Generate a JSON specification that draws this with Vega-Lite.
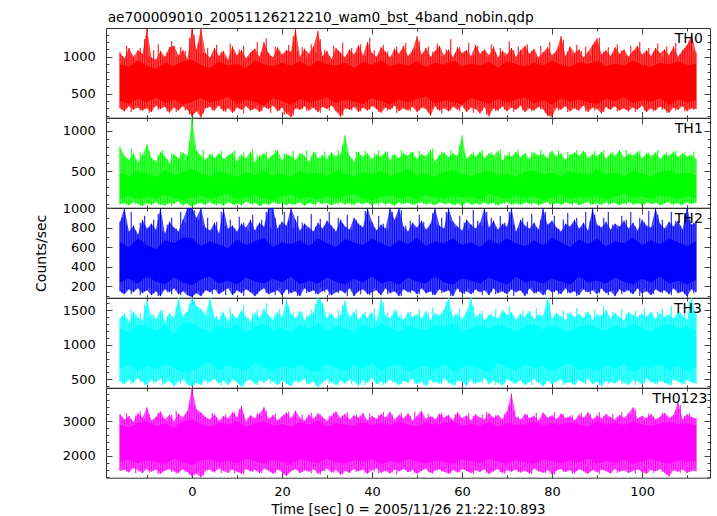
{
"$schema":"https://vega.github.io/schema/vega-lite/v6.json",
"padding":{"left":33,"top":11,"right":0,"bottom":0},
"title":{"text":"ae700009010_20051126212210_wam0_bst_4band_nobin.qdp","anchor":"start","font":"DejaVu Sans","fontSize":13.7,"fontWeight":"normal","color":"#000","offset":2,"dx":74},
"spacing":0,
"bounds":"flush",
"datasets":{
"labs":[{"p":"TH0","t":113.5,"v":1391},{"p":"TH1","t":113.5,"v":1155},{"p":"TH2","t":113.5,"v":1000},{"p":"TH3","t":113.3,"v":1677},{"p":"TH0123","t":114.5,"v":3960}],
"env":[
{"t":-16,"l0":300,"h0":1060,"l1":90,"h1":800,"l2":150,"h2":860,"l3":470,"h3":1380,"l4":1560,"h4":3200},
{"t":-15,"l0":260,"h0":980,"l1":110,"h1":690,"l2":120,"h2":1000,"l3":430,"h3":1450,"l4":1600,"h4":3050},
{"t":-14,"l0":330,"h0":1120,"l1":80,"h1":640,"l2":170,"h2":760,"l3":500,"h3":1330,"l4":1520,"h4":3150},
{"t":-13,"l0":280,"h0":1000,"l1":120,"h1":720,"l2":140,"h2":820,"l3":450,"h3":1480,"l4":1650,"h4":2980},
{"t":-12,"l0":310,"h0":1090,"l1":95,"h1":610,"l2":180,"h2":730,"l3":520,"h3":1400,"l4":1580,"h4":3230},
{"t":-11,"l0":270,"h0":1040,"l1":70,"h1":700,"l2":130,"h2":880,"l3":470,"h3":1350,"l4":1500,"h4":3100},
{"t":-10,"l0":300,"h0":1390,"l1":105,"h1":830,"l2":160,"h2":790,"l3":420,"h3":1640,"l4":1620,"h4":3400},
{"t":-9,"l0":250,"h0":990,"l1":85,"h1":660,"l2":110,"h2":840,"l3":490,"h3":1420,"l4":1540,"h4":3020},
{"t":-8,"l0":340,"h0":960,"l1":120,"h1":620,"l2":150,"h2":780,"l3":460,"h3":1370,"l4":1600,"h4":3120},
{"t":-7,"l0":290,"h0":1080,"l1":90,"h1":740,"l2":100,"h2":1000,"l3":510,"h3":1500,"l4":1480,"h4":3280},
{"t":-6,"l0":320,"h0":1000,"l1":75,"h1":680,"l2":170,"h2":740,"l3":440,"h3":1330,"l4":1570,"h4":3060},
{"t":-5,"l0":240,"h0":1130,"l1":110,"h1":600,"l2":140,"h2":860,"l3":480,"h3":1460,"l4":1620,"h4":3180},
{"t":-4,"l0":310,"h0":1150,"l1":95,"h1":710,"l2":180,"h2":800,"l3":400,"h3":1390,"l4":1550,"h4":3000},
{"t":-3,"l0":270,"h0":1020,"l1":130,"h1":650,"l2":120,"h2":760,"l3":470,"h3":1677,"l4":1500,"h4":3220},
{"t":-2,"l0":330,"h0":1090,"l1":80,"h1":730,"l2":150,"h2":880,"l3":500,"h3":1410,"l4":1610,"h4":3100},
{"t":-1,"l0":280,"h0":970,"l1":100,"h1":690,"l2":110,"h2":1000,"l3":430,"h3":1480,"l4":1530,"h4":3300},
{"t":0,"l0":190,"h0":1390,"l1":60,"h1":1155,"l2":90,"h2":1000,"l3":400,"h3":1677,"l4":1400,"h4":3960},
{"t":1,"l0":260,"h0":1100,"l1":95,"h1":760,"l2":130,"h2":900,"l3":450,"h3":1560,"l4":1480,"h4":3350},
{"t":2,"l0":175,"h0":1390,"l1":110,"h1":690,"l2":100,"h2":1000,"l3":420,"h3":1520,"l4":1380,"h4":3250},
{"t":3,"l0":300,"h0":1050,"l1":85,"h1":640,"l2":160,"h2":800,"l3":490,"h3":1430,"l4":1570,"h4":3120},
{"t":4,"l0":320,"h0":990,"l1":120,"h1":710,"l2":140,"h2":770,"l3":460,"h3":1677,"l4":1600,"h4":3050},
{"t":5,"l0":270,"h0":1120,"l1":90,"h1":660,"l2":170,"h2":850,"l3":510,"h3":1400,"l4":1520,"h4":3200},
{"t":6,"l0":340,"h0":1010,"l1":105,"h1":720,"l2":120,"h2":740,"l3":440,"h3":1360,"l4":1640,"h4":3010},
{"t":7,"l0":260,"h0":1080,"l1":75,"h1":650,"l2":150,"h2":1000,"l3":480,"h3":1470,"l4":1560,"h4":3150},
{"t":8,"l0":300,"h0":960,"l1":115,"h1":690,"l2":180,"h2":790,"l3":420,"h3":1340,"l4":1500,"h4":3080},
{"t":9,"l0":240,"h0":1140,"l1":90,"h1":730,"l2":110,"h2":820,"l3":500,"h3":1450,"l4":1610,"h4":3260},
{"t":10,"l0":310,"h0":1020,"l1":100,"h1":620,"l2":160,"h2":760,"l3":460,"h3":1380,"l4":1540,"h4":3110},
{"t":11,"l0":280,"h0":1090,"l1":80,"h1":700,"l2":130,"h2":840,"l3":390,"h3":1500,"l4":1480,"h4":3450},
{"t":12,"l0":330,"h0":980,"l1":125,"h1":660,"l2":170,"h2":800,"l3":470,"h3":1410,"l4":1620,"h4":3000},
{"t":13,"l0":270,"h0":1060,"l1":95,"h1":740,"l2":140,"h2":880,"l3":500,"h3":1330,"l4":1550,"h4":3170},
{"t":14,"l0":300,"h0":1110,"l1":110,"h1":610,"l2":100,"h2":770,"l3":430,"h3":1460,"l4":1590,"h4":3090},
{"t":15,"l0":250,"h0":1000,"l1":70,"h1":690,"l2":150,"h2":850,"l3":480,"h3":1390,"l4":1500,"h4":3220},
{"t":16,"l0":320,"h0":1200,"l1":100,"h1":720,"l2":180,"h2":810,"l3":450,"h3":1520,"l4":1630,"h4":3400},
{"t":17,"l0":290,"h0":1050,"l1":85,"h1":650,"l2":120,"h2":1000,"l3":510,"h3":1430,"l4":1570,"h4":3060},
{"t":18,"l0":340,"h0":990,"l1":120,"h1":700,"l2":140,"h2":1000,"l3":470,"h3":1360,"l4":1480,"h4":3180},
{"t":19,"l0":260,"h0":1130,"l1":95,"h1":760,"l2":160,"h2":790,"l3":420,"h3":1470,"l4":1600,"h4":3020},
{"t":20,"l0":310,"h0":1030,"l1":110,"h1":630,"l2":110,"h2":860,"l3":490,"h3":1400,"l4":1530,"h4":3140},
{"t":21,"l0":230,"h0":1090,"l1":80,"h1":710,"l2":170,"h2":820,"l3":440,"h3":1650,"l4":1410,"h4":3250},
{"t":22,"l0":180,"h0":1070,"l1":100,"h1":680,"l2":130,"h2":1000,"l3":400,"h3":1440,"l4":1550,"h4":3080},
{"t":23,"l0":300,"h0":1390,"l1":90,"h1":640,"l2":150,"h2":880,"l3":480,"h3":1380,"l4":1620,"h4":3300},
{"t":24,"l0":280,"h0":1000,"l1":115,"h1":720,"l2":100,"h2":770,"l3":460,"h3":1490,"l4":1500,"h4":3100},
{"t":25,"l0":330,"h0":1110,"l1":75,"h1":690,"l2":180,"h2":840,"l3":510,"h3":1350,"l4":1580,"h4":3010},
{"t":26,"l0":270,"h0":1040,"l1":105,"h1":610,"l2":140,"h2":800,"l3":430,"h3":1420,"l4":1540,"h4":3190},
{"t":27,"l0":310,"h0":1140,"l1":90,"h1":740,"l2":160,"h2":760,"l3":470,"h3":1460,"l4":1610,"h4":3070},
{"t":28,"l0":250,"h0":1350,"l1":125,"h1":660,"l2":120,"h2":850,"l3":390,"h3":1677,"l4":1480,"h4":3230},
{"t":29,"l0":320,"h0":1010,"l1":95,"h1":700,"l2":150,"h2":790,"l3":450,"h3":1600,"l4":1560,"h4":3120},
{"t":30,"l0":290,"h0":1080,"l1":110,"h1":650,"l2":170,"h2":870,"l3":500,"h3":1390,"l4":1630,"h4":3000},
{"t":31,"l0":340,"h0":970,"l1":80,"h1":730,"l2":110,"h2":820,"l3":460,"h3":1450,"l4":1520,"h4":3160},
{"t":32,"l0":260,"h0":1120,"l1":100,"h1":680,"l2":140,"h2":760,"l3":420,"h3":1370,"l4":1590,"h4":3280},
{"t":33,"l0":185,"h0":1060,"l1":120,"h1":710,"l2":160,"h2":880,"l3":480,"h3":1430,"l4":1450,"h4":3090},
{"t":34,"l0":300,"h0":990,"l1":90,"h1":940,"l2":130,"h2":810,"l3":440,"h3":1640,"l4":1570,"h4":3210},
{"t":35,"l0":280,"h0":1100,"l1":105,"h1":690,"l2":180,"h2":780,"l3":500,"h3":1400,"l4":1500,"h4":3050},
{"t":36,"l0":320,"h0":1030,"l1":85,"h1":620,"l2":100,"h2":900,"l3":470,"h3":1480,"l4":1620,"h4":3170},
{"t":37,"l0":250,"h0":1160,"l1":115,"h1":740,"l2":150,"h2":840,"l3":410,"h3":1360,"l4":1550,"h4":3100},
{"t":38,"l0":310,"h0":1020,"l1":95,"h1":670,"l2":170,"h2":800,"l3":490,"h3":1450,"l4":1600,"h4":3240},
{"t":39,"l0":270,"h0":1200,"l1":110,"h1":720,"l2":120,"h2":1000,"l3":450,"h3":1390,"l4":1480,"h4":3020},
{"t":40,"l0":330,"h0":1050,"l1":80,"h1":650,"l2":140,"h2":860,"l3":520,"h3":1470,"l4":1580,"h4":3150},
{"t":41,"l0":290,"h0":1000,"l1":100,"h1":700,"l2":160,"h2":770,"l3":430,"h3":1340,"l4":1640,"h4":3060},
{"t":42,"l0":240,"h0":1130,"l1":120,"h1":680,"l2":110,"h2":830,"l3":470,"h3":1660,"l4":1510,"h4":3200},
{"t":43,"l0":310,"h0":1070,"l1":90,"h1":740,"l2":180,"h2":790,"l3":440,"h3":1420,"l4":1570,"h4":3110},
{"t":44,"l0":280,"h0":990,"l1":105,"h1":630,"l2":130,"h2":1000,"l3":500,"h3":1380,"l4":1490,"h4":3270},
{"t":45,"l0":340,"h0":1110,"l1":75,"h1":710,"l2":150,"h2":880,"l3":460,"h3":1500,"l4":1600,"h4":3040},
{"t":46,"l0":260,"h0":1040,"l1":115,"h1":660,"l2":100,"h2":1000,"l3":420,"h3":1410,"l4":1550,"h4":3180},
{"t":47,"l0":300,"h0":1150,"l1":95,"h1":720,"l2":170,"h2":810,"l3":480,"h3":1360,"l4":1620,"h4":3090},
{"t":48,"l0":270,"h0":1010,"l1":110,"h1":690,"l2":140,"h2":760,"l3":450,"h3":1470,"l4":1530,"h4":3230},
{"t":49,"l0":320,"h0":1090,"l1":85,"h1":740,"l2":160,"h2":850,"l3":510,"h3":1400,"l4":1590,"h4":3010},
{"t":50,"l0":250,"h0":1280,"l1":100,"h1":650,"l2":120,"h2":800,"l3":430,"h3":1440,"l4":1480,"h4":3160},
{"t":51,"l0":310,"h0":1030,"l1":120,"h1":710,"l2":180,"h2":870,"l3":470,"h3":1380,"l4":1560,"h4":3300},
{"t":52,"l0":290,"h0":1120,"l1":90,"h1":680,"l2":130,"h2":780,"l3":400,"h3":1490,"l4":1630,"h4":3070},
{"t":53,"l0":200,"h0":1000,"l1":105,"h1":760,"l2":150,"h2":840,"l3":490,"h3":1350,"l4":1500,"h4":3140},
{"t":54,"l0":330,"h0":1080,"l1":80,"h1":620,"l2":110,"h2":1000,"l3":460,"h3":1460,"l4":1570,"h4":3050},
{"t":55,"l0":270,"h0":1150,"l1":115,"h1":700,"l2":170,"h2":820,"l3":440,"h3":1420,"l4":1610,"h4":3220},
{"t":56,"l0":300,"h0":1020,"l1":95,"h1":730,"l2":140,"h2":790,"l3":510,"h3":1510,"l4":1540,"h4":3100},
{"t":57,"l0":260,"h0":1100,"l1":110,"h1":670,"l2":160,"h2":1000,"l3":450,"h3":1677,"l4":1480,"h4":3180},
{"t":58,"l0":320,"h0":990,"l1":85,"h1":720,"l2":100,"h2":860,"l3":420,"h3":1400,"l4":1590,"h4":3030},
{"t":59,"l0":280,"h0":1130,"l1":100,"h1":690,"l2":180,"h2":810,"l3":480,"h3":1450,"l4":1520,"h4":3260},
{"t":60,"l0":340,"h0":1050,"l1":70,"h1":940,"l2":130,"h2":770,"l3":470,"h3":1370,"l4":1620,"h4":3090},
{"t":61,"l0":250,"h0":1090,"l1":120,"h1":650,"l2":150,"h2":880,"l3":400,"h3":1480,"l4":1560,"h4":3170},
{"t":62,"l0":310,"h0":1010,"l1":90,"h1":710,"l2":120,"h2":830,"l3":500,"h3":1677,"l4":1500,"h4":3020},
{"t":63,"l0":290,"h0":1160,"l1":105,"h1":680,"l2":170,"h2":790,"l3":440,"h3":1390,"l4":1580,"h4":3200},
{"t":64,"l0":230,"h0":1040,"l1":85,"h1":740,"l2":140,"h2":850,"l3":460,"h3":1460,"l4":1530,"h4":3110},
{"t":65,"l0":320,"h0":1100,"l1":115,"h1":660,"l2":160,"h2":1000,"l3":520,"h3":1350,"l4":1610,"h4":3050},
{"t":66,"l0":190,"h0":1020,"l1":95,"h1":720,"l2":110,"h2":800,"l3":430,"h3":1440,"l4":1470,"h4":3230},
{"t":67,"l0":300,"h0":1140,"l1":110,"h1":690,"l2":180,"h2":870,"l3":480,"h3":1410,"l4":1550,"h4":3100},
{"t":68,"l0":270,"h0":990,"l1":80,"h1":750,"l2":130,"h2":780,"l3":450,"h3":1380,"l4":1620,"h4":3180},
{"t":69,"l0":330,"h0":1080,"l1":100,"h1":630,"l2":150,"h2":840,"l3":410,"h3":1500,"l4":1500,"h4":3060},
{"t":70,"l0":260,"h0":1030,"l1":120,"h1":700,"l2":120,"h2":810,"l3":500,"h3":1430,"l4":1580,"h4":3290},
{"t":71,"l0":310,"h0":1120,"l1":90,"h1":680,"l2":170,"h2":1000,"l3":470,"h3":1470,"l4":1540,"h4":3800},
{"t":72,"l0":280,"h0":1000,"l1":105,"h1":740,"l2":140,"h2":760,"l3":440,"h3":1360,"l4":1600,"h4":3120},
{"t":73,"l0":340,"h0":1090,"l1":85,"h1":670,"l2":160,"h2":880,"l3":490,"h3":1450,"l4":1520,"h4":3040},
{"t":74,"l0":250,"h0":1150,"l1":115,"h1":720,"l2":100,"h2":820,"l3":420,"h3":1400,"l4":1570,"h4":3210},
{"t":75,"l0":300,"h0":1040,"l1":95,"h1":650,"l2":180,"h2":790,"l3":460,"h3":1490,"l4":1490,"h4":3090},
{"t":76,"l0":270,"h0":1110,"l1":110,"h1":730,"l2":130,"h2":850,"l3":510,"h3":1370,"l4":1630,"h4":3160},
{"t":77,"l0":320,"h0":990,"l1":80,"h1":690,"l2":150,"h2":780,"l3":450,"h3":1440,"l4":1550,"h4":3020},
{"t":78,"l0":290,"h0":1060,"l1":100,"h1":710,"l2":110,"h2":1000,"l3":400,"h3":1420,"l4":1510,"h4":3250},
{"t":79,"l0":200,"h0":1130,"l1":120,"h1":660,"l2":170,"h2":830,"l3":480,"h3":1677,"l4":1590,"h4":3100},
{"t":80,"l0":185,"h0":1020,"l1":90,"h1":750,"l2":140,"h2":870,"l3":430,"h3":1380,"l4":1460,"h4":3170},
{"t":81,"l0":310,"h0":1090,"l1":105,"h1":680,"l2":160,"h2":800,"l3":470,"h3":1460,"l4":1570,"h4":3060},
{"t":82,"l0":280,"h0":1280,"l1":85,"h1":720,"l2":120,"h2":760,"l3":500,"h3":1410,"l4":1620,"h4":3220},
{"t":83,"l0":330,"h0":1010,"l1":115,"h1":640,"l2":180,"h2":840,"l3":440,"h3":1350,"l4":1530,"h4":3090},
{"t":84,"l0":260,"h0":1140,"l1":95,"h1":700,"l2":130,"h2":810,"l3":460,"h3":1470,"l4":1580,"h4":3140},
{"t":85,"l0":300,"h0":1050,"l1":110,"h1":730,"l2":150,"h2":880,"l3":420,"h3":1400,"l4":1500,"h4":3030},
{"t":86,"l0":270,"h0":1100,"l1":80,"h1":690,"l2":110,"h2":790,"l3":490,"h3":1450,"l4":1610,"h4":3190},
{"t":87,"l0":340,"h0":990,"l1":100,"h1":750,"l2":170,"h2":850,"l3":450,"h3":1390,"l4":1550,"h4":3100},
{"t":88,"l0":250,"h0":1070,"l1":120,"h1":660,"l2":140,"h2":770,"l3":510,"h3":1480,"l4":1480,"h4":3260},
{"t":89,"l0":310,"h0":1160,"l1":90,"h1":710,"l2":160,"h2":1000,"l3":430,"h3":1360,"l4":1590,"h4":3050},
{"t":90,"l0":290,"h0":1250,"l1":105,"h1":680,"l2":120,"h2":830,"l3":470,"h3":1440,"l4":1520,"h4":3170},
{"t":91,"l0":230,"h0":1030,"l1":85,"h1":740,"l2":180,"h2":800,"l3":400,"h3":1420,"l4":1600,"h4":3080},
{"t":92,"l0":320,"h0":1090,"l1":115,"h1":650,"l2":130,"h2":860,"l3":480,"h3":1500,"l4":1560,"h4":3210},
{"t":93,"l0":280,"h0":1010,"l1":95,"h1":720,"l2":150,"h2":780,"l3":460,"h3":1380,"l4":1490,"h4":3120},
{"t":94,"l0":330,"h0":1130,"l1":110,"h1":690,"l2":100,"h2":840,"l3":440,"h3":1460,"l4":1620,"h4":3040},
{"t":95,"l0":270,"h0":1040,"l1":80,"h1":760,"l2":170,"h2":810,"l3":500,"h3":1400,"l4":1540,"h4":3180},
{"t":96,"l0":300,"h0":1100,"l1":100,"h1":670,"l2":140,"h2":870,"l3":450,"h3":1350,"l4":1580,"h4":3100},
{"t":97,"l0":260,"h0":1000,"l1":120,"h1":710,"l2":160,"h2":790,"l3":420,"h3":1470,"l4":1500,"h4":3230},
{"t":98,"l0":310,"h0":1080,"l1":90,"h1":690,"l2":120,"h2":850,"l3":490,"h3":1430,"l4":1570,"h4":3400},
{"t":99,"l0":280,"h0":1150,"l1":105,"h1":740,"l2":180,"h2":770,"l3":470,"h3":1390,"l4":1610,"h4":3070},
{"t":100,"l0":340,"h0":1030,"l1":85,"h1":660,"l2":130,"h2":880,"l3":430,"h3":1450,"l4":1530,"h4":3160},
{"t":101,"l0":250,"h0":1090,"l1":115,"h1":720,"l2":150,"h2":820,"l3":510,"h3":1410,"l4":1480,"h4":3090},
{"t":102,"l0":300,"h0":1010,"l1":95,"h1":680,"l2":110,"h2":800,"l3":460,"h3":1480,"l4":1590,"h4":3200},
{"t":103,"l0":270,"h0":1120,"l1":110,"h1":730,"l2":170,"h2":1000,"l3":440,"h3":1370,"l4":1550,"h4":3050},
{"t":104,"l0":320,"h0":1050,"l1":80,"h1":650,"l2":140,"h2":840,"l3":480,"h3":1460,"l4":1620,"h4":3130},
{"t":105,"l0":290,"h0":1100,"l1":100,"h1":710,"l2":160,"h2":790,"l3":450,"h3":1400,"l4":1510,"h4":3240},
{"t":106,"l0":240,"h0":1020,"l1":120,"h1":690,"l2":120,"h2":860,"l3":420,"h3":1440,"l4":1400,"h4":3100},
{"t":107,"l0":310,"h0":1140,"l1":90,"h1":740,"l2":180,"h2":810,"l3":500,"h3":1380,"l4":1580,"h4":3180},
{"t":108,"l0":280,"h0":1000,"l1":105,"h1":670,"l2":130,"h2":870,"l3":470,"h3":1470,"l4":1540,"h4":3550},
{"t":109,"l0":330,"h0":1090,"l1":85,"h1":720,"l2":150,"h2":780,"l3":430,"h3":1420,"l4":1600,"h4":3060},
{"t":110,"l0":260,"h0":1160,"l1":115,"h1":680,"l2":100,"h2":1000,"l3":490,"h3":1360,"l4":1500,"h4":3200},
{"t":111,"l0":300,"h0":1300,"l1":95,"h1":700,"l2":170,"h2":830,"l3":460,"h3":1677,"l4":1570,"h4":3120},
{"t":112,"l0":290,"h0":1060,"l1":110,"h1":650,"l2":140,"h2":850,"l3":440,"h3":1450,"l4":1550,"h4":3080}
],
"env2":[
{"t":-15.5,"l0":280,"h0":1010,"l1":100,"h1":720,"l2":130,"h2":900,"l3":450,"h3":1420,"l4":1580,"h4":3120},
{"t":-14.5,"l0":310,"h0":1150,"l1":85,"h1":660,"l2":160,"h2":820,"l3":490,"h3":1390,"l4":1540,"h4":3220},
{"t":-13.5,"l0":250,"h0":1030,"l1":115,"h1":780,"l2":120,"h2":960,"l3":430,"h3":1510,"l4":1620,"h4":3060},
{"t":-12.5,"l0":330,"h0":960,"l1":95,"h1":640,"l2":170,"h2":770,"l3":510,"h3":1350,"l4":1500,"h4":3170},
{"t":-11.5,"l0":270,"h0":1120,"l1":75,"h1":730,"l2":110,"h2":850,"l3":460,"h3":1460,"l4":1570,"h4":3280},
{"t":-10.5,"l0":300,"h0":1240,"l1":120,"h1":690,"l2":150,"h2":920,"l3":420,"h3":1580,"l4":1640,"h4":3090},
{"t":-9.5,"l0":240,"h0":1010,"l1":90,"h1":750,"l2":180,"h2":800,"l3":500,"h3":1400,"l4":1510,"h4":3190},
{"t":-8.5,"l0":320,"h0":1090,"l1":105,"h1":620,"l2":130,"h2":880,"l3":440,"h3":1440,"l4":1590,"h4":3030},
{"t":-7.5,"l0":280,"h0":1170,"l1":80,"h1":700,"l2":100,"h2":940,"l3":480,"h3":1370,"l4":1470,"h4":3250},
{"t":-6.5,"l0":340,"h0":990,"l1":110,"h1":760,"l2":160,"h2":760,"l3":410,"h3":1500,"l4":1560,"h4":3110},
{"t":-5.5,"l0":260,"h0":1060,"l1":95,"h1":650,"l2":140,"h2":830,"l3":520,"h3":1420,"l4":1610,"h4":3000},
{"t":-4.5,"l0":300,"h0":1210,"l1":70,"h1":720,"l2":120,"h2":900,"l3":450,"h3":1360,"l4":1530,"h4":3180},
{"t":-3.5,"l0":250,"h0":1000,"l1":125,"h1":680,"l2":170,"h2":790,"l3":470,"h3":1550,"l4":1480,"h4":3290},
{"t":-2.5,"l0":310,"h0":1130,"l1":90,"h1":740,"l2":110,"h2":960,"l3":430,"h3":1430,"l4":1600,"h4":3060},
{"t":-1.5,"l0":270,"h0":1080,"l1":100,"h1":610,"l2":150,"h2":850,"l3":500,"h3":1470,"l4":1520,"h4":3200},
{"t":-0.5,"l0":220,"h0":1260,"l1":80,"h1":860,"l2":100,"h2":1000,"l3":410,"h3":1600,"l4":1450,"h4":3500},
{"t":0.5,"l0":240,"h0":1300,"l1":90,"h1":820,"l2":120,"h2":980,"l3":430,"h3":1640,"l4":1500,"h4":3450},
{"t":1.5,"l0":280,"h0":1190,"l1":110,"h1":700,"l2":150,"h2":880,"l3":460,"h3":1490,"l4":1560,"h4":3230},
{"t":2.5,"l0":230,"h0":1050,"l1":85,"h1":760,"l2":130,"h2":820,"l3":490,"h3":1450,"l4":1420,"h4":3150},
{"t":3.5,"l0":310,"h0":1120,"l1":120,"h1":650,"l2":160,"h2":900,"l3":440,"h3":1380,"l4":1590,"h4":3070},
{"t":4.5,"l0":270,"h0":1010,"l1":95,"h1":720,"l2":120,"h2":780,"l3":510,"h3":1520,"l4":1540,"h4":3240},
{"t":5.5,"l0":330,"h0":1160,"l1":75,"h1":690,"l2":170,"h2":860,"l3":470,"h3":1420,"l4":1620,"h4":3120},
{"t":6.5,"l0":290,"h0":1070,"l1":110,"h1":750,"l2":140,"h2":960,"l3":420,"h3":1470,"l4":1500,"h4":3030},
{"t":7.5,"l0":250,"h0":990,"l1":90,"h1":640,"l2":110,"h2":820,"l3":500,"h3":1400,"l4":1570,"h4":3190},
{"t":8.5,"l0":320,"h0":1180,"l1":120,"h1":710,"l2":180,"h2":880,"l3":450,"h3":1530,"l4":1610,"h4":3080},
{"t":9.5,"l0":260,"h0":1040,"l1":80,"h1":760,"l2":130,"h2":790,"l3":480,"h3":1360,"l4":1480,"h4":3260},
{"t":10.5,"l0":300,"h0":1100,"l1":105,"h1":690,"l2":150,"h2":910,"l3":430,"h3":1440,"l4":1550,"h4":3350},
{"t":11.5,"l0":230,"h0":1150,"l1":95,"h1":730,"l2":100,"h2":850,"l3":400,"h3":1580,"l4":1460,"h4":3200},
{"t":12.5,"l0":310,"h0":1000,"l1":115,"h1":650,"l2":160,"h2":770,"l3":490,"h3":1390,"l4":1600,"h4":3100},
{"t":13.5,"l0":280,"h0":1090,"l1":85,"h1":770,"l2":140,"h2":930,"l3":460,"h3":1460,"l4":1530,"h4":3050},
{"t":14.5,"l0":330,"h0":1200,"l1":100,"h1":700,"l2":120,"h2":820,"l3":420,"h3":1510,"l4":1580,"h4":3230},
{"t":15.5,"l0":260,"h0":1060,"l1":75,"h1":640,"l2":170,"h2":880,"l3":510,"h3":1420,"l4":1500,"h4":3150},
{"t":16.5,"l0":300,"h0":1250,"l1":110,"h1":740,"l2":130,"h2":960,"l3":470,"h3":1600,"l4":1620,"h4":3300},
{"t":17.5,"l0":240,"h0":1010,"l1":90,"h1":690,"l2":150,"h2":800,"l3":440,"h3":1380,"l4":1540,"h4":3080},
{"t":18.5,"l0":320,"h0":1140,"l1":120,"h1":760,"l2":110,"h2":900,"l3":490,"h3":1450,"l4":1490,"h4":3210},
{"t":19.5,"l0":270,"h0":1080,"l1":95,"h1":650,"l2":180,"h2":830,"l3":430,"h3":1520,"l4":1610,"h4":3060},
{"t":20.5,"l0":210,"h0":1030,"l1":80,"h1":720,"l2":140,"h2":960,"l3":460,"h3":1400,"l4":1450,"h4":3170},
{"t":21.5,"l0":250,"h0":1160,"l1":105,"h1":700,"l2":120,"h2":870,"l3":420,"h3":1560,"l4":1520,"h4":3280},
{"t":22.5,"l0":200,"h0":1280,"l1":90,"h1":750,"l2":160,"h2":800,"l3":480,"h3":1470,"l4":1580,"h4":3120},
{"t":23.5,"l0":310,"h0":1070,"l1":115,"h1":630,"l2":100,"h2":920,"l3":450,"h3":1390,"l4":1610,"h4":3040},
{"t":24.5,"l0":290,"h0":1130,"l1":85,"h1":710,"l2":170,"h2":850,"l3":500,"h3":1480,"l4":1530,"h4":3190},
{"t":25.5,"l0":260,"h0":1000,"l1":100,"h1":760,"l2":130,"h2":780,"l3":430,"h3":1430,"l4":1570,"h4":3090},
{"t":26.5,"l0":330,"h0":1170,"l1":120,"h1":680,"l2":150,"h2":940,"l3":470,"h3":1510,"l4":1490,"h4":3250},
{"t":27.5,"l0":280,"h0":1060,"l1":75,"h1":730,"l2":120,"h2":810,"l3":410,"h3":1600,"l4":1600,"h4":3110},
{"t":28.5,"l0":240,"h0":1240,"l1":95,"h1":650,"l2":180,"h2":890,"l3":460,"h3":1660,"l4":1460,"h4":3200},
{"t":29.5,"l0":310,"h0":1090,"l1":110,"h1":740,"l2":140,"h2":820,"l3":490,"h3":1420,"l4":1550,"h4":3070},
{"t":30.5,"l0":270,"h0":1010,"l1":90,"h1":700,"l2":110,"h2":960,"l3":440,"h3":1470,"l4":1620,"h4":3160},
{"t":31.5,"l0":330,"h0":1150,"l1":120,"h1":670,"l2":160,"h2":790,"l3":500,"h3":1380,"l4":1510,"h4":3240},
{"t":32.5,"l0":250,"h0":1080,"l1":85,"h1":760,"l2":130,"h2":900,"l3":420,"h3":1500,"l4":1580,"h4":3080},
{"t":33.5,"l0":200,"h0":1190,"l1":100,"h1":820,"l2":150,"h2":840,"l3":460,"h3":1570,"l4":1470,"h4":3170},
{"t":34.5,"l0":300,"h0":1030,"l1":115,"h1":720,"l2":100,"h2":930,"l3":480,"h3":1440,"l4":1560,"h4":3260},
{"t":35.5,"l0":270,"h0":1120,"l1":80,"h1":660,"l2":170,"h2":780,"l3":430,"h3":1400,"l4":1610,"h4":3040},
{"t":36.5,"l0":320,"h0":1050,"l1":105,"h1":740,"l2":140,"h2":880,"l3":500,"h3":1520,"l4":1530,"h4":3200},
{"t":37.5,"l0":260,"h0":1170,"l1":95,"h1":690,"l2":120,"h2":820,"l3":450,"h3":1390,"l4":1580,"h4":3130},
{"t":38.5,"l0":300,"h0":1010,"l1":120,"h1":750,"l2":160,"h2":970,"l3":410,"h3":1480,"l4":1500,"h4":3060},
{"t":39.5,"l0":280,"h0":1260,"l1":90,"h1":630,"l2":110,"h2":860,"l3":470,"h3":1450,"l4":1620,"h4":3230},
{"t":40.5,"l0":340,"h0":1090,"l1":110,"h1":720,"l2":180,"h2":800,"l3":490,"h3":1530,"l4":1550,"h4":3110},
{"t":41.5,"l0":250,"h0":1040,"l1":75,"h1":760,"l2":130,"h2":920,"l3":440,"h3":1370,"l4":1490,"h4":3180},
{"t":42.5,"l0":310,"h0":1160,"l1":100,"h1":680,"l2":150,"h2":840,"l3":420,"h3":1610,"l4":1570,"h4":3270},
{"t":43.5,"l0":270,"h0":1070,"l1":115,"h1":740,"l2":120,"h2":780,"l3":500,"h3":1460,"l4":1600,"h4":3050},
{"t":44.5,"l0":300,"h0":1000,"l1":85,"h1":700,"l2":170,"h2":960,"l3":450,"h3":1420,"l4":1520,"h4":3190},
{"t":45.5,"l0":240,"h0":1140,"l1":105,"h1":650,"l2":140,"h2":900,"l3":480,"h3":1500,"l4":1460,"h4":3100},
{"t":46.5,"l0":320,"h0":1080,"l1":90,"h1":760,"l2":100,"h2":980,"l3":430,"h3":1440,"l4":1580,"h4":3240},
{"t":47.5,"l0":280,"h0":1190,"l1":120,"h1":700,"l2":160,"h2":820,"l3":470,"h3":1390,"l4":1610,"h4":3080},
{"t":48.5,"l0":260,"h0":1030,"l1":95,"h1":730,"l2":130,"h2":870,"l3":510,"h3":1480,"l4":1540,"h4":3160},
{"t":49.5,"l0":310,"h0":1110,"l1":80,"h1":670,"l2":150,"h2":800,"l3":440,"h3":1430,"l4":1500,"h4":3270},
{"t":50.5,"l0":270,"h0":1220,"l1":110,"h1":750,"l2":120,"h2":930,"l3":460,"h3":1520,"l4":1570,"h4":3120},
{"t":51.5,"l0":330,"h0":1050,"l1":95,"h1":690,"l2":170,"h2":860,"l3":420,"h3":1400,"l4":1620,"h4":3040},
{"t":52.5,"l0":250,"h0":1140,"l1":115,"h1":720,"l2":140,"h2":790,"l3":490,"h3":1470,"l4":1530,"h4":3210},
{"t":53.5,"l0":300,"h0":1070,"l1":85,"h1":780,"l2":110,"h2":950,"l3":450,"h3":1540,"l4":1480,"h4":3130},
{"t":54.5,"l0":280,"h0":1180,"l1":100,"h1":660,"l2":160,"h2":830,"l3":480,"h3":1420,"l4":1590,"h4":3060},
{"t":55.5,"l0":230,"h0":1010,"l1":120,"h1":740,"l2":130,"h2":900,"l3":430,"h3":1460,"l4":1550,"h4":3250},
{"t":56.5,"l0":310,"h0":1100,"l1":90,"h1":700,"l2":150,"h2":960,"l3":500,"h3":1630,"l4":1610,"h4":3170},
{"t":57.5,"l0":270,"h0":1240,"l1":105,"h1":760,"l2":100,"h2":870,"l3":460,"h3":1500,"l4":1490,"h4":3090},
{"t":58.5,"l0":330,"h0":1050,"l1":80,"h1":680,"l2":170,"h2":800,"l3":410,"h3":1440,"l4":1570,"h4":3200},
{"t":59.5,"l0":260,"h0":1130,"l1":115,"h1":820,"l2":140,"h2":920,"l3":480,"h3":1530,"l4":1520,"h4":3110},
{"t":60.5,"l0":300,"h0":1070,"l1":95,"h1":720,"l2":120,"h2":850,"l3":450,"h3":1400,"l4":1600,"h4":3030},
{"t":61.5,"l0":280,"h0":1190,"l1":110,"h1":660,"l2":180,"h2":780,"l3":500,"h3":1470,"l4":1540,"h4":3240},
{"t":62.5,"l0":240,"h0":1020,"l1":85,"h1":740,"l2":130,"h2":980,"l3":430,"h3":1560,"l4":1470,"h4":3150},
{"t":63.5,"l0":320,"h0":1150,"l1":100,"h1":700,"l2":150,"h2":870,"l3":470,"h3":1420,"l4":1580,"h4":3080},
{"t":64.5,"l0":270,"h0":1080,"l1":120,"h1":760,"l2":110,"h2":820,"l3":440,"h3":1490,"l4":1620,"h4":3190},
{"t":65.5,"l0":210,"h0":1000,"l1":90,"h1":690,"l2":160,"h2":960,"l3":490,"h3":1380,"l4":1500,"h4":3270},
{"t":66.5,"l0":290,"h0":1170,"l1":105,"h1":730,"l2":140,"h2":900,"l3":460,"h3":1450,"l4":1560,"h4":3100},
{"t":67.5,"l0":260,"h0":1060,"l1":80,"h1":650,"l2":120,"h2":800,"l3":420,"h3":1520,"l4":1610,"h4":3170},
{"t":68.5,"l0":310,"h0":1120,"l1":115,"h1":770,"l2":170,"h2":920,"l3":480,"h3":1400,"l4":1530,"h4":3050},
{"t":69.5,"l0":280,"h0":1010,"l1":95,"h1":700,"l2":130,"h2":850,"l3":450,"h3":1470,"l4":1480,"h4":3220},
{"t":70.5,"l0":330,"h0":1210,"l1":110,"h1":740,"l2":150,"h2":960,"l3":500,"h3":1560,"l4":1570,"h4":3450},
{"t":71.5,"l0":250,"h0":1090,"l1":85,"h1":680,"l2":100,"h2":830,"l3":430,"h3":1430,"l4":1600,"h4":3300},
{"t":72.5,"l0":300,"h0":1140,"l1":120,"h1":760,"l2":160,"h2":790,"l3":470,"h3":1390,"l4":1520,"h4":3140},
{"t":73.5,"l0":270,"h0":1030,"l1":90,"h1":710,"l2":140,"h2":900,"l3":440,"h3":1500,"l4":1590,"h4":3060},
{"t":74.5,"l0":320,"h0":1170,"l1":105,"h1":650,"l2":120,"h2":860,"l3":490,"h3":1460,"l4":1540,"h4":3200},
{"t":75.5,"l0":260,"h0":1080,"l1":80,"h1":740,"l2":180,"h2":940,"l3":420,"h3":1420,"l4":1470,"h4":3110},
{"t":76.5,"l0":300,"h0":1000,"l1":115,"h1":700,"l2":130,"h2":800,"l3":460,"h3":1530,"l4":1610,"h4":3240},
{"t":77.5,"l0":280,"h0":1150,"l1":95,"h1":760,"l2":150,"h2":880,"l3":500,"h3":1400,"l4":1560,"h4":3080},
{"t":78.5,"l0":240,"h0":1060,"l1":110,"h1":680,"l2":110,"h2":960,"l3":430,"h3":1470,"l4":1500,"h4":3190},
{"t":79.5,"l0":210,"h0":1200,"l1":85,"h1":730,"l2":170,"h2":840,"l3":470,"h3":1600,"l4":1580,"h4":3130},
{"t":80.5,"l0":300,"h0":1040,"l1":100,"h1":700,"l2":140,"h2":920,"l3":450,"h3":1440,"l4":1450,"h4":3260},
{"t":81.5,"l0":270,"h0":1130,"l1":120,"h1":760,"l2":120,"h2":790,"l3":490,"h3":1390,"l4":1620,"h4":3070},
{"t":82.5,"l0":320,"h0":1230,"l1":90,"h1":650,"l2":160,"h2":880,"l3":420,"h3":1500,"l4":1530,"h4":3210},
{"t":83.5,"l0":250,"h0":1070,"l1":105,"h1":740,"l2":130,"h2":950,"l3":480,"h3":1460,"l4":1590,"h4":3100},
{"t":84.5,"l0":310,"h0":1010,"l1":80,"h1":710,"l2":150,"h2":830,"l3":440,"h3":1420,"l4":1480,"h4":3180},
{"t":85.5,"l0":280,"h0":1160,"l1":115,"h1":760,"l2":100,"h2":900,"l3":500,"h3":1530,"l4":1570,"h4":3050},
{"t":86.5,"l0":330,"h0":1080,"l1":95,"h1":690,"l2":180,"h2":800,"l3":460,"h3":1380,"l4":1610,"h4":3240},
{"t":87.5,"l0":260,"h0":1140,"l1":110,"h1":730,"l2":140,"h2":960,"l3":430,"h3":1470,"l4":1500,"h4":3120},
{"t":88.5,"l0":300,"h0":1020,"l1":85,"h1":670,"l2":120,"h2":870,"l3":490,"h3":1440,"l4":1550,"h4":3200},
{"t":89.5,"l0":270,"h0":1200,"l1":120,"h1":750,"l2":170,"h2":930,"l3":450,"h3":1510,"l4":1600,"h4":3090},
{"t":90.5,"l0":310,"h0":1260,"l1":90,"h1":700,"l2":130,"h2":820,"l3":420,"h3":1400,"l4":1470,"h4":3260},
{"t":91.5,"l0":250,"h0":1070,"l1":105,"h1":760,"l2":150,"h2":900,"l3":480,"h3":1560,"l4":1580,"h4":3140},
{"t":92.5,"l0":290,"h0":1130,"l1":80,"h1":680,"l2":110,"h2":960,"l3":440,"h3":1430,"l4":1530,"h4":3050},
{"t":93.5,"l0":320,"h0":1040,"l1":115,"h1":740,"l2":160,"h2":830,"l3":500,"h3":1480,"l4":1610,"h4":3210},
{"t":94.5,"l0":260,"h0":1170,"l1":95,"h1":700,"l2":140,"h2":790,"l3":460,"h3":1390,"l4":1500,"h4":3130},
{"t":95.5,"l0":300,"h0":1090,"l1":110,"h1":650,"l2":120,"h2":920,"l3":430,"h3":1520,"l4":1560,"h4":3260},
{"t":96.5,"l0":280,"h0":1010,"l1":85,"h1":760,"l2":170,"h2":880,"l3":490,"h3":1450,"l4":1620,"h4":3080},
{"t":97.5,"l0":330,"h0":1150,"l1":120,"h1":720,"l2":130,"h2":960,"l3":450,"h3":1410,"l4":1540,"h4":3190},
{"t":98.5,"l0":250,"h0":1080,"l1":90,"h1":690,"l2":150,"h2":810,"l3":420,"h3":1500,"l4":1480,"h4":3350},
{"t":99.5,"l0":310,"h0":1200,"l1":105,"h1":750,"l2":100,"h2":900,"l3":480,"h3":1440,"l4":1590,"h4":3120},
{"t":100.5,"l0":270,"h0":1030,"l1":80,"h1":680,"l2":180,"h2":850,"l3":440,"h3":1530,"l4":1550,"h4":3040},
{"t":101.5,"l0":300,"h0":1120,"l1":115,"h1":730,"l2":140,"h2":970,"l3":500,"h3":1420,"l4":1610,"h4":3220},
{"t":102.5,"l0":260,"h0":1060,"l1":95,"h1":700,"l2":120,"h2":820,"l3":460,"h3":1390,"l4":1500,"h4":3140},
{"t":103.5,"l0":320,"h0":1180,"l1":110,"h1":760,"l2":160,"h2":930,"l3":430,"h3":1480,"l4":1570,"h4":3060},
{"t":104.5,"l0":280,"h0":1000,"l1":85,"h1":660,"l2":130,"h2":880,"l3":490,"h3":1520,"l4":1530,"h4":3250},
{"t":105.5,"l0":240,"h0":1140,"l1":120,"h1":740,"l2":150,"h2":800,"l3":450,"h3":1440,"l4":1460,"h4":3170},
{"t":106.5,"l0":310,"h0":1070,"l1":90,"h1":700,"l2":110,"h2":960,"l3":410,"h3":1560,"l4":1590,"h4":3080},
{"t":107.5,"l0":270,"h0":1190,"l1":105,"h1":750,"l2":170,"h2":870,"l3":480,"h3":1410,"l4":1620,"h4":3300},
{"t":108.5,"l0":330,"h0":1040,"l1":80,"h1":680,"l2":140,"h2":820,"l3":460,"h3":1470,"l4":1510,"h4":3460},
{"t":109.5,"l0":260,"h0":1120,"l1":115,"h1":730,"l2":120,"h2":940,"l3":430,"h3":1500,"l4":1570,"h4":3150},
{"t":110.5,"l0":300,"h0":1210,"l1":95,"h1":690,"l2":160,"h2":880,"l3":500,"h3":1620,"l4":1540,"h4":3230},
{"t":111.5,"l0":280,"h0":1090,"l1":110,"h1":740,"l2":130,"h2":850,"l3":450,"h3":1450,"l4":1600,"h4":3100}
],
"core":[
{"t":-16,"m0":400,"n0":900,"m1":170,"n1":480,"m2":240,"n2":650,"m3":650,"n3":1230,"m4":1830,"n4":2900},
{"t":-14,"m0":360,"n0":860,"m1":200,"n1":440,"m2":280,"n2":600,"m3":720,"n3":1180,"m4":1900,"n4":2820},
{"t":-12,"m0":430,"n0":950,"m1":150,"n1":500,"m2":230,"n2":690,"m3":610,"n3":1300,"m4":1780,"n4":2950},
{"t":-10,"m0":380,"n0":880,"m1":190,"n1":460,"m2":300,"n2":620,"m3":700,"n3":1260,"m4":1880,"n4":2990},
{"t":-8,"m0":450,"n0":830,"m1":160,"n1":420,"m2":250,"n2":580,"m3":640,"n3":1200,"m4":1820,"n4":2860},
{"t":-6,"m0":370,"n0":920,"m1":210,"n1":510,"m2":220,"n2":670,"m3":730,"n3":1290,"m4":1760,"n4":2940},
{"t":-4,"m0":420,"n0":870,"m1":170,"n1":450,"m2":290,"n2":640,"m3":660,"n3":1150,"m4":1920,"n4":2800},
{"t":-2,"m0":350,"n0":940,"m1":140,"n1":490,"m2":240,"n2":700,"m3":600,"n3":1320,"m4":1800,"n4":2980},
{"t":0,"m0":390,"n0":960,"m1":180,"n1":530,"m2":210,"n2":690,"m3":620,"n3":1310,"m4":1750,"n4":3050},
{"t":2,"m0":440,"n0":890,"m1":200,"n1":470,"m2":270,"n2":610,"m3":690,"n3":1240,"m4":1860,"n4":2910},
{"t":4,"m0":380,"n0":850,"m1":160,"n1":430,"m2":300,"n2":660,"m3":750,"n3":1190,"m4":1900,"n4":2850},
{"t":6,"m0":410,"n0":930,"m1":190,"n1":500,"m2":230,"n2":630,"m3":630,"n3":1280,"m4":1800,"n4":2960},
{"t":8,"m0":460,"n0":880,"m1":220,"n1":460,"m2":260,"n2":590,"m3":710,"n3":1220,"m4":1870,"n4":2880},
{"t":10,"m0":360,"n0":910,"m1":150,"n1":420,"m2":220,"n2":680,"m3":660,"n3":1300,"m4":1780,"n4":3000},
{"t":12,"m0":420,"n0":840,"m1":180,"n1":490,"m2":290,"n2":620,"m3":620,"n3":1170,"m4":1920,"n4":2830},
{"t":14,"m0":390,"n0":950,"m1":200,"n1":450,"m2":250,"n2":660,"m3":740,"n3":1260,"m4":1840,"n4":2940},
{"t":16,"m0":340,"n0":900,"m1":170,"n1":510,"m2":230,"n2":700,"m3":680,"n3":1310,"m4":1770,"n4":2990},
{"t":18,"m0":440,"n0":870,"m1":140,"n1":440,"m2":280,"n2":600,"m3":610,"n3":1210,"m4":1890,"n4":2870},
{"t":20,"m0":400,"n0":920,"m1":190,"n1":470,"m2":240,"n2":650,"m3":700,"n3":1250,"m4":1820,"n4":2920},
{"t":22,"m0":350,"n0":880,"m1":210,"n1":430,"m2":300,"n2":630,"m3":650,"n3":1180,"m4":1760,"n4":2850},
{"t":24,"m0":430,"n0":940,"m1":160,"n1":500,"m2":220,"n2":670,"m3":720,"n3":1290,"m4":1900,"n4":2970},
{"t":26,"m0":380,"n0":860,"m1":180,"n1":460,"m2":260,"n2":610,"m3":640,"n3":1230,"m4":1850,"n4":2890},
{"t":28,"m0":410,"n0":950,"m1":150,"n1":480,"m2":230,"n2":690,"m3":600,"n3":1320,"m4":1790,"n4":3010},
{"t":30,"m0":450,"n0":900,"m1":200,"n1":440,"m2":290,"n2":640,"m3":730,"n3":1200,"m4":1920,"n4":2840},
{"t":32,"m0":370,"n0":880,"m1":170,"n1":510,"m2":250,"n2":600,"m3":670,"n3":1270,"m4":1810,"n4":2950},
{"t":34,"m0":420,"n0":920,"m1":190,"n1":470,"m2":220,"n2":680,"m3":620,"n3":1240,"m4":1780,"n4":2900},
{"t":36,"m0":390,"n0":850,"m1":220,"n1":430,"m2":280,"n2":650,"m3":710,"n3":1190,"m4":1880,"n4":2860},
{"t":38,"m0":360,"n0":930,"m1":160,"n1":490,"m2":240,"n2":620,"m3":650,"n3":1300,"m4":1830,"n4":2980},
{"t":40,"m0":440,"n0":890,"m1":140,"n1":460,"m2":300,"n2":690,"m3":740,"n3":1220,"m4":1900,"n4":2880},
{"t":42,"m0":400,"n0":950,"m1":180,"n1":500,"m2":230,"n2":640,"m3":630,"n3":1310,"m4":1760,"n4":2940},
{"t":44,"m0":350,"n0":870,"m1":200,"n1":440,"m2":260,"n2":600,"m3":690,"n3":1250,"m4":1850,"n4":2870},
{"t":46,"m0":420,"n0":910,"m1":170,"n1":480,"m2":220,"n2":670,"m3":720,"n3":1180,"m4":1800,"n4":2990},
{"t":48,"m0":380,"n0":880,"m1":190,"n1":520,"m2":290,"n2":630,"m3":610,"n3":1280,"m4":1910,"n4":2900},
{"t":50,"m0":430,"n0":940,"m1":150,"n1":450,"m2":250,"n2":700,"m3":660,"n3":1230,"m4":1840,"n4":2850},
{"t":52,"m0":460,"n0":860,"m1":210,"n1":470,"m2":230,"n2":610,"m3":700,"n3":1210,"m4":1780,"n4":2960},
{"t":54,"m0":370,"n0":920,"m1":180,"n1":430,"m2":300,"n2":660,"m3":640,"n3":1290,"m4":1870,"n4":2890},
{"t":56,"m0":410,"n0":890,"m1":160,"n1":490,"m2":240,"n2":640,"m3":730,"n3":1260,"m4":1820,"n4":2930},
{"t":58,"m0":390,"n0":950,"m1":200,"n1":510,"m2":220,"n2":690,"m3":620,"n3":1320,"m4":1760,"n4":3000},
{"t":60,"m0":350,"n0":870,"m1":170,"n1":460,"m2":280,"n2":620,"m3":680,"n3":1190,"m4":1900,"n4":2860},
{"t":62,"m0":440,"n0":910,"m1":190,"n1":440,"m2":260,"n2":650,"m3":710,"n3":1240,"m4":1850,"n4":2920},
{"t":64,"m0":400,"n0":880,"m1":150,"n1":480,"m2":230,"n2":600,"m3":650,"n3":1280,"m4":1790,"n4":2870},
{"t":66,"m0":360,"n0":930,"m1":220,"n1":500,"m2":290,"n2":680,"m3":600,"n3":1220,"m4":1920,"n4":2980},
{"t":68,"m0":430,"n0":850,"m1":180,"n1":450,"m2":250,"n2":630,"m3":740,"n3":1300,"m4":1830,"n4":2840},
{"t":70,"m0":380,"n0":940,"m1":160,"n1":470,"m2":220,"n2":690,"m3":670,"n3":1250,"m4":1770,"n4":2950},
{"t":72,"m0":420,"n0":900,"m1":200,"n1":430,"m2":300,"n2":640,"m3":630,"n3":1180,"m4":1880,"n4":2890},
{"t":74,"m0":450,"n0":870,"m1":170,"n1":490,"m2":240,"n2":610,"m3":720,"n3":1270,"m4":1820,"n4":2910},
{"t":76,"m0":370,"n0":920,"m1":190,"n1":510,"m2":260,"n2":670,"m3":660,"n3":1310,"m4":1760,"n4":2990},
{"t":78,"m0":410,"n0":880,"m1":140,"n1":460,"m2":230,"n2":620,"m3":700,"n3":1210,"m4":1900,"n4":2860},
{"t":80,"m0":350,"n0":950,"m1":180,"n1":480,"m2":280,"n2":700,"m3":610,"n3":1290,"m4":1840,"n4":2940},
{"t":82,"m0":440,"n0":890,"m1":210,"n1":440,"m2":250,"n2":650,"m3":690,"n3":1230,"m4":1790,"n4":2880},
{"t":84,"m0":390,"n0":860,"m1":160,"n1":500,"m2":220,"n2":600,"m3":740,"n3":1190,"m4":1870,"n4":2970},
{"t":86,"m0":420,"n0":930,"m1":190,"n1":470,"m2":300,"n2":680,"m3":640,"n3":1260,"m4":1810,"n4":2900},
{"t":88,"m0":380,"n0":900,"m1":170,"n1":450,"m2":240,"n2":630,"m3":680,"n3":1300,"m4":1920,"n4":2850},
{"t":90,"m0":360,"n0":940,"m1":200,"n1":520,"m2":260,"n2":690,"m3":620,"n3":1240,"m4":1780,"n4":3000},
{"t":92,"m0":430,"n0":870,"m1":150,"n1":460,"m2":230,"n2":610,"m3":710,"n3":1200,"m4":1850,"n4":2890},
{"t":94,"m0":400,"n0":910,"m1":180,"n1":480,"m2":290,"n2":660,"m3":650,"n3":1280,"m4":1800,"n4":2950},
{"t":96,"m0":450,"n0":880,"m1":220,"n1":440,"m2":250,"n2":640,"m3":730,"n3":1220,"m4":1890,"n4":2870},
{"t":98,"m0":370,"n0":950,"m1":170,"n1":500,"m2":220,"n2":700,"m3":600,"n3":1310,"m4":1760,"n4":2990},
{"t":100,"m0":410,"n0":890,"m1":190,"n1":470,"m2":280,"n2":620,"m3":690,"n3":1250,"m4":1840,"n4":2910},
{"t":102,"m0":390,"n0":860,"m1":160,"n1":430,"m2":240,"n2":670,"m3":660,"n3":1180,"m4":1910,"n4":2860},
{"t":104,"m0":440,"n0":920,"m1":200,"n1":490,"m2":300,"n2":630,"m3":720,"n3":1270,"m4":1820,"n4":2940},
{"t":106,"m0":350,"n0":900,"m1":180,"n1":510,"m2":230,"n2":690,"m3":640,"n3":1300,"m4":1770,"n4":2980},
{"t":108,"m0":420,"n0":940,"m1":150,"n1":460,"m2":260,"n2":650,"m3":700,"n3":1230,"m4":1880,"n4":2900},
{"t":110,"m0":380,"n0":880,"m1":190,"n1":480,"m2":220,"n2":610,"m3":620,"n3":1260,"m4":1830,"n4":2950},
{"t":112,"m0":410,"n0":910,"m1":170,"n1":450,"m2":270,"n2":660,"m3":680,"n3":1220,"m4":1850,"n4":2880}
]
},
"vconcat":[
{"width":604,"height":89.7,"layer":[
{"data":{"name":"env"},"mark":{"type":"area","color":"#ff0000","opacity":0.7,"clip":true},"encoding":{
"x":{"field":"t","type":"quantitative","scale":{"domain":[-19.1,115.1],"nice":false,"zero":false},"axis":{"orient":"bottom","values":[0,20,40,60,80,100],"tickSize":-6,"labels":false,"title":null}},
"y":{"field":"l0","type":"quantitative","scale":{"domain":[173,1391],"nice":false,"zero":false},"axis":{"orient":"left","values":[500,1000],"tickSize":-6,"labelPadding":16.7,"title":null}},
"y2":{"field":"h0"}}},
{"data":{"name":"core"},"mark":{"type":"area","color":"#ff0000","clip":true},"encoding":{
"x":{"field":"t","type":"quantitative","scale":{"domain":[-19.1,115.1],"nice":false,"zero":false},"axis":{"orient":"top","values":[0,20,40,60,80,100],"tickSize":-6,"labels":false,"title":null}},
"y":{"field":"m0","type":"quantitative","scale":{"domain":[173,1391],"nice":false,"zero":false},"axis":{"orient":"right","values":[500,1000],"tickSize":-6,"labels":false,"title":null}},
"y2":{"field":"n0"}}},
{"data":{"name":"env"},"mark":{"type":"rule","color":"#ff0000","strokeWidth":1,"clip":true},"encoding":{
"x":{"field":"t","type":"quantitative","scale":{"domain":[-19.1,115.1],"nice":false,"zero":false},"axis":{"orient":"bottom","values":[-10,10,30,50,70,90,110],"tickSize":-3,"labels":false,"title":null}},
"y":{"field":"l0","type":"quantitative","scale":{"domain":[173,1391],"nice":false,"zero":false},"axis":{"orient":"left","values":[200,300,400,600,700,800,900,1100,1200,1300],"tickSize":-3,"labels":false,"title":null}},
"y2":{"field":"h0"}}},
{"data":{"name":"env2"},"mark":{"type":"rule","color":"#ff0000","strokeWidth":1,"clip":true},"encoding":{
"x":{"field":"t","type":"quantitative","scale":{"domain":[-19.1,115.1],"nice":false,"zero":false},"axis":null},
"y":{"field":"l0","type":"quantitative","scale":{"domain":[173,1391],"nice":false,"zero":false},"axis":null},
"y2":{"field":"h0"}}},
{"data":{"name":"labs"},"transform":[{"filter":"datum.p==='TH0'"}],"mark":{"type":"text","align":"right","baseline":"top","dy":4,"font":"DejaVu Sans","fontSize":14,"color":"#000"},"encoding":{
"x":{"field":"t","type":"quantitative","scale":{"domain":[-19.1,115.1],"nice":false,"zero":false},"axis":{"orient":"top","values":[-10,10,30,50,70,90,110],"tickSize":-3,"labels":false,"title":null}},
"y":{"field":"v","type":"quantitative","scale":{"domain":[173,1391],"nice":false,"zero":false},"axis":{"orient":"right","values":[200,300,400,600,700,800,900,1100,1200,1300],"tickSize":-3,"labels":false,"title":null}},
"text":{"field":"p"}}}
],"resolve":{"axis":{"x":"independent","y":"independent"}}},
{"width":604,"height":89.7,"layer":[
{"data":{"name":"env"},"mark":{"type":"area","color":"#00ff00","opacity":0.7,"clip":true},"encoding":{
"x":{"field":"t","type":"quantitative","scale":{"domain":[-19.1,115.1],"nice":false,"zero":false},"axis":{"orient":"bottom","values":[0,20,40,60,80,100],"tickSize":-6,"labels":false,"title":null}},
"y":{"field":"l1","type":"quantitative","scale":{"domain":[49,1155],"nice":false,"zero":false},"axis":{"orient":"left","values":[500,1000],"tickSize":-6,"labelPadding":16.7,"title":null}},
"y2":{"field":"h1"}}},
{"data":{"name":"core"},"mark":{"type":"area","color":"#00ff00","clip":true},"encoding":{
"x":{"field":"t","type":"quantitative","scale":{"domain":[-19.1,115.1],"nice":false,"zero":false},"axis":{"orient":"top","values":[0,20,40,60,80,100],"tickSize":-6,"labels":false,"title":null}},
"y":{"field":"m1","type":"quantitative","scale":{"domain":[49,1155],"nice":false,"zero":false},"axis":{"orient":"right","values":[500,1000],"tickSize":-6,"labels":false,"title":null}},
"y2":{"field":"n1"}}},
{"data":{"name":"env"},"mark":{"type":"rule","color":"#00ff00","strokeWidth":1,"clip":true},"encoding":{
"x":{"field":"t","type":"quantitative","scale":{"domain":[-19.1,115.1],"nice":false,"zero":false},"axis":{"orient":"bottom","values":[-10,10,30,50,70,90,110],"tickSize":-3,"labels":false,"title":null}},
"y":{"field":"l1","type":"quantitative","scale":{"domain":[49,1155],"nice":false,"zero":false},"axis":{"orient":"left","values":[100,200,300,400,600,700,800,900,1100],"tickSize":-3,"labels":false,"title":null}},
"y2":{"field":"h1"}}},
{"data":{"name":"env2"},"mark":{"type":"rule","color":"#00ff00","strokeWidth":1,"clip":true},"encoding":{
"x":{"field":"t","type":"quantitative","scale":{"domain":[-19.1,115.1],"nice":false,"zero":false},"axis":null},
"y":{"field":"l1","type":"quantitative","scale":{"domain":[49,1155],"nice":false,"zero":false},"axis":null},
"y2":{"field":"h1"}}},
{"data":{"name":"labs"},"transform":[{"filter":"datum.p==='TH1'"}],"mark":{"type":"text","align":"right","baseline":"top","dy":4,"font":"DejaVu Sans","fontSize":14,"color":"#000"},"encoding":{
"x":{"field":"t","type":"quantitative","scale":{"domain":[-19.1,115.1],"nice":false,"zero":false},"axis":{"orient":"top","values":[-10,10,30,50,70,90,110],"tickSize":-3,"labels":false,"title":null}},
"y":{"field":"v","type":"quantitative","scale":{"domain":[49,1155],"nice":false,"zero":false},"axis":{"orient":"right","values":[100,200,300,400,600,700,800,900,1100],"tickSize":-3,"labels":false,"title":null}},
"text":{"field":"p"}}}
],"resolve":{"axis":{"x":"independent","y":"independent"}}},
{"width":604,"height":89.7,"layer":[
{"data":{"name":"env"},"mark":{"type":"area","color":"#0000ff","opacity":0.7,"clip":true},"encoding":{
"x":{"field":"t","type":"quantitative","scale":{"domain":[-19.1,115.1],"nice":false,"zero":false},"axis":{"orient":"bottom","values":[0,20,40,60,80,100],"tickSize":-6,"labels":false,"title":null}},
"y":{"field":"l2","type":"quantitative","scale":{"domain":[84,1000],"nice":false,"zero":false},"axis":{"orient":"left","values":[200,400,600,800,1000],"tickSize":-6,"labelPadding":16.7,"title":"Counts/sec","titleFontSize":14,"titlePadding":14}},
"y2":{"field":"h2"}}},
{"data":{"name":"core"},"mark":{"type":"area","color":"#0000ff","clip":true},"encoding":{
"x":{"field":"t","type":"quantitative","scale":{"domain":[-19.1,115.1],"nice":false,"zero":false},"axis":{"orient":"top","values":[0,20,40,60,80,100],"tickSize":-6,"labels":false,"title":null}},
"y":{"field":"m2","type":"quantitative","scale":{"domain":[84,1000],"nice":false,"zero":false},"axis":{"orient":"right","values":[200,400,600,800,1000],"tickSize":-6,"labels":false,"title":null}},
"y2":{"field":"n2"}}},
{"data":{"name":"env"},"mark":{"type":"rule","color":"#0000ff","strokeWidth":1,"clip":true},"encoding":{
"x":{"field":"t","type":"quantitative","scale":{"domain":[-19.1,115.1],"nice":false,"zero":false},"axis":{"orient":"bottom","values":[-10,10,30,50,70,90,110],"tickSize":-3,"labels":false,"title":null}},
"y":{"field":"l2","type":"quantitative","scale":{"domain":[84,1000],"nice":false,"zero":false},"axis":{"orient":"left","values":[100,300,500,700,900],"tickSize":-3,"labels":false,"title":null}},
"y2":{"field":"h2"}}},
{"data":{"name":"env2"},"mark":{"type":"rule","color":"#0000ff","strokeWidth":1,"clip":true},"encoding":{
"x":{"field":"t","type":"quantitative","scale":{"domain":[-19.1,115.1],"nice":false,"zero":false},"axis":null},
"y":{"field":"l2","type":"quantitative","scale":{"domain":[84,1000],"nice":false,"zero":false},"axis":null},
"y2":{"field":"h2"}}},
{"data":{"name":"labs"},"transform":[{"filter":"datum.p==='TH2'"}],"mark":{"type":"text","align":"right","baseline":"top","dy":4,"font":"DejaVu Sans","fontSize":14,"color":"#000"},"encoding":{
"x":{"field":"t","type":"quantitative","scale":{"domain":[-19.1,115.1],"nice":false,"zero":false},"axis":{"orient":"top","values":[-10,10,30,50,70,90,110],"tickSize":-3,"labels":false,"title":null}},
"y":{"field":"v","type":"quantitative","scale":{"domain":[84,1000],"nice":false,"zero":false},"axis":{"orient":"right","values":[100,300,500,700,900],"tickSize":-3,"labels":false,"title":null}},
"text":{"field":"p"}}}
],"resolve":{"axis":{"x":"independent","y":"independent"}}},
{"width":604,"height":89.7,"layer":[
{"data":{"name":"env"},"mark":{"type":"area","color":"#00ffff","opacity":0.7,"clip":true},"encoding":{
"x":{"field":"t","type":"quantitative","scale":{"domain":[-19.1,115.1],"nice":false,"zero":false},"axis":{"orient":"bottom","values":[0,20,40,60,80,100],"tickSize":-6,"labels":false,"title":null}},
"y":{"field":"l3","type":"quantitative","scale":{"domain":[380,1677],"nice":false,"zero":false},"axis":{"orient":"left","values":[500,1000,1500],"tickSize":-6,"labelPadding":16.7,"title":null}},
"y2":{"field":"h3"}}},
{"data":{"name":"core"},"mark":{"type":"area","color":"#00ffff","clip":true},"encoding":{
"x":{"field":"t","type":"quantitative","scale":{"domain":[-19.1,115.1],"nice":false,"zero":false},"axis":{"orient":"top","values":[0,20,40,60,80,100],"tickSize":-6,"labels":false,"title":null}},
"y":{"field":"m3","type":"quantitative","scale":{"domain":[380,1677],"nice":false,"zero":false},"axis":{"orient":"right","values":[500,1000,1500],"tickSize":-6,"labels":false,"title":null}},
"y2":{"field":"n3"}}},
{"data":{"name":"env"},"mark":{"type":"rule","color":"#00ffff","strokeWidth":1,"clip":true},"encoding":{
"x":{"field":"t","type":"quantitative","scale":{"domain":[-19.1,115.1],"nice":false,"zero":false},"axis":{"orient":"bottom","values":[-10,10,30,50,70,90,110],"tickSize":-3,"labels":false,"title":null}},
"y":{"field":"l3","type":"quantitative","scale":{"domain":[380,1677],"nice":false,"zero":false},"axis":{"orient":"left","values":[400,600,700,800,900,1100,1200,1300,1400,1600],"tickSize":-3,"labels":false,"title":null}},
"y2":{"field":"h3"}}},
{"data":{"name":"env2"},"mark":{"type":"rule","color":"#00ffff","strokeWidth":1,"clip":true},"encoding":{
"x":{"field":"t","type":"quantitative","scale":{"domain":[-19.1,115.1],"nice":false,"zero":false},"axis":null},
"y":{"field":"l3","type":"quantitative","scale":{"domain":[380,1677],"nice":false,"zero":false},"axis":null},
"y2":{"field":"h3"}}},
{"data":{"name":"labs"},"transform":[{"filter":"datum.p==='TH3'"}],"mark":{"type":"text","align":"right","baseline":"top","dy":4,"font":"DejaVu Sans","fontSize":14,"color":"#000"},"encoding":{
"x":{"field":"t","type":"quantitative","scale":{"domain":[-19.1,115.1],"nice":false,"zero":false},"axis":{"orient":"top","values":[-10,10,30,50,70,90,110],"tickSize":-3,"labels":false,"title":null}},
"y":{"field":"v","type":"quantitative","scale":{"domain":[380,1677],"nice":false,"zero":false},"axis":{"orient":"right","values":[400,600,700,800,900,1100,1200,1300,1400,1600],"tickSize":-3,"labels":false,"title":null}},
"text":{"field":"p"}}}
],"resolve":{"axis":{"x":"independent","y":"independent"}}},
{"width":604,"height":89.7,"layer":[
{"data":{"name":"env"},"mark":{"type":"area","color":"#ff00ff","opacity":0.7,"clip":true},"encoding":{
"x":{"field":"t","type":"quantitative","scale":{"domain":[-19.1,115.1],"nice":false,"zero":false},"axis":{"orient":"bottom","values":[0,20,40,60,80,100],"tickSize":-6,"labelPadding":14,"title":"Time [sec] 0 = 2005/11/26 21:22:10.893","titlePadding":4}},
"y":{"field":"l4","type":"quantitative","scale":{"domain":[1366,3960],"nice":false,"zero":false},"axis":{"orient":"left","values":[2000,3000],"tickSize":-6,"labelPadding":16.7,"title":null}},
"y2":{"field":"h4"}}},
{"data":{"name":"core"},"mark":{"type":"area","color":"#ff00ff","clip":true},"encoding":{
"x":{"field":"t","type":"quantitative","scale":{"domain":[-19.1,115.1],"nice":false,"zero":false},"axis":{"orient":"top","values":[0,20,40,60,80,100],"tickSize":-6,"labels":false,"title":null}},
"y":{"field":"m4","type":"quantitative","scale":{"domain":[1366,3960],"nice":false,"zero":false},"axis":{"orient":"right","values":[2000,3000],"tickSize":-6,"labels":false,"title":null}},
"y2":{"field":"n4"}}},
{"data":{"name":"env"},"mark":{"type":"rule","color":"#ff00ff","strokeWidth":1,"clip":true},"encoding":{
"x":{"field":"t","type":"quantitative","scale":{"domain":[-19.1,115.1],"nice":false,"zero":false},"axis":{"orient":"bottom","values":[-10,10,30,50,70,90,110],"tickSize":-3,"labels":false,"title":null}},
"y":{"field":"l4","type":"quantitative","scale":{"domain":[1366,3960],"nice":false,"zero":false},"axis":{"orient":"left","values":[1400,1600,1800,2200,2400,2600,2800,3200,3400,3600,3800],"tickSize":-3,"labels":false,"title":null}},
"y2":{"field":"h4"}}},
{"data":{"name":"env2"},"mark":{"type":"rule","color":"#ff00ff","strokeWidth":1,"clip":true},"encoding":{
"x":{"field":"t","type":"quantitative","scale":{"domain":[-19.1,115.1],"nice":false,"zero":false},"axis":null},
"y":{"field":"l4","type":"quantitative","scale":{"domain":[1366,3960],"nice":false,"zero":false},"axis":null},
"y2":{"field":"h4"}}},
{"data":{"name":"labs"},"transform":[{"filter":"datum.p==='TH0123'"}],"mark":{"type":"text","align":"right","baseline":"top","dy":4,"font":"DejaVu Sans","fontSize":14,"color":"#000"},"encoding":{
"x":{"field":"t","type":"quantitative","scale":{"domain":[-19.1,115.1],"nice":false,"zero":false},"axis":{"orient":"top","values":[-10,10,30,50,70,90,110],"tickSize":-3,"labels":false,"title":null}},
"y":{"field":"v","type":"quantitative","scale":{"domain":[1366,3960],"nice":false,"zero":false},"axis":{"orient":"right","values":[1400,1600,1800,2200,2400,2600,2800,3200,3400,3600,3800],"tickSize":-3,"labels":false,"title":null}},
"text":{"field":"p"}}}
],"resolve":{"axis":{"x":"independent","y":"independent"}}}
],
"config":{
"concat":{"spacing":0},
"view":{"stroke":"#333","strokeWidth":1},
"axis":{"domain":false,"grid":false,"format":"d","labelFont":"DejaVu Sans","labelFontSize":13,"labelColor":"#000","labelFlush":false,"labelOverlap":false,"tickColor":"#444","tickWidth":1,"zindex":1,"titleFont":"DejaVu Sans","titleFontSize":13.4,"titleFontWeight":"normal","titleColor":"#000"}
}
}
